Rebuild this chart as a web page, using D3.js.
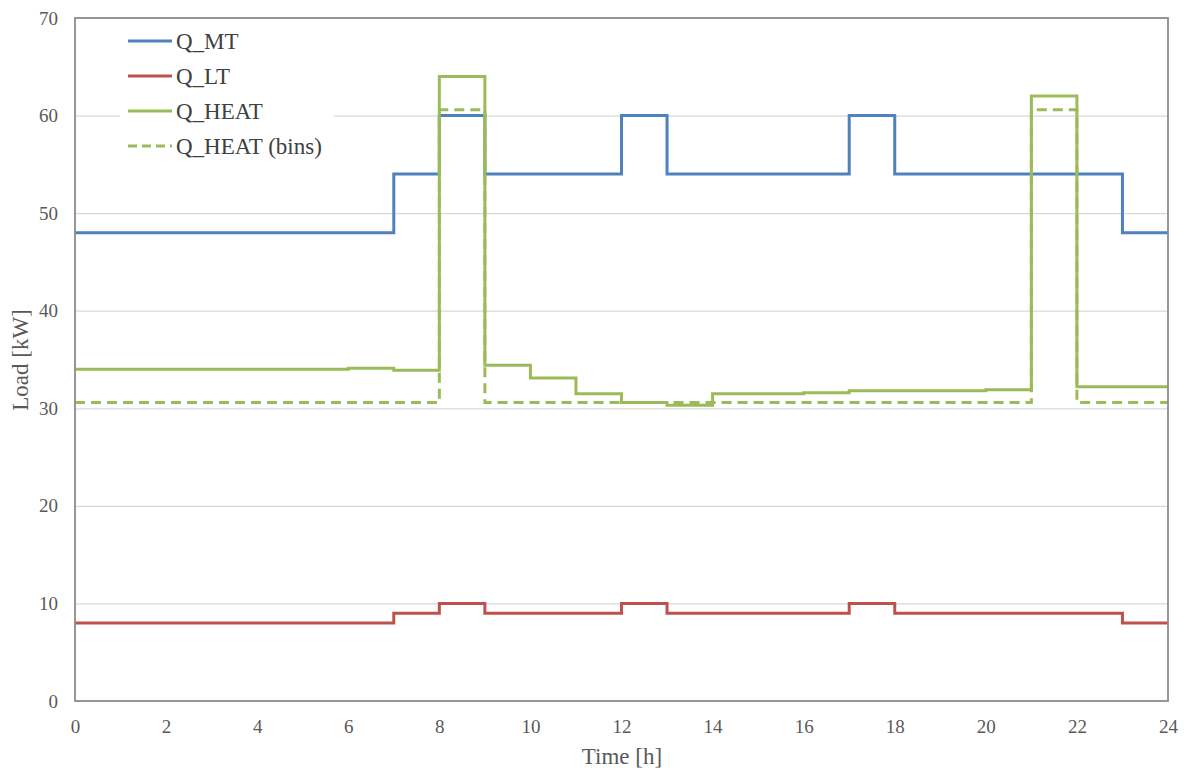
<!DOCTYPE html>
<html>
<head>
<meta charset="utf-8">
<script src="https://cdn.jsdelivr.net/npm/d3@7"></script>
<style>
  html, body { margin: 0; padding: 0; background: #fff; }
  svg { display: block; }
  svg text { font-family: "Liberation Serif", "Times New Roman", serif; }
</style>
</head>
<body>
<svg id="chart" width="1190" height="771"></svg>
<script>
// Hourly loads over one day (value holds from hour h to h+1)
const hours = d3.range(0, 24);
const qMT = [48, 48, 48, 48, 48, 48, 48, 54, 60, 54, 54, 54, 60, 54, 54, 54, 54, 60, 54, 54, 54, 54, 54, 48];
const qLT = [8, 8, 8, 8, 8, 8, 8, 9, 10, 9, 9, 9, 10, 9, 9, 9, 9, 10, 9, 9, 9, 9, 9, 8];
const qHeat = [34.0, 34.0, 34.0, 34.0, 34.0, 34.0, 34.1, 33.9, 64.0, 34.4, 33.1, 31.5, 30.6, 30.3, 31.5, 31.5, 31.6, 31.8, 31.8, 31.8, 31.9, 62.0, 32.2, 32.2];
const qHeatBins = [30.6, 30.6, 30.6, 30.6, 30.6, 30.6, 30.6, 30.6, 60.6, 30.6, 30.6, 30.6, 30.6, 30.6, 30.6, 30.6, 30.6, 30.6, 30.6, 30.6, 30.6, 60.6, 30.6, 30.6];
const xTicks = [0, 2, 4, 6, 8, 10, 12, 14, 16, 18, 20, 22, 24];
const yTicks = [0, 10, 20, 30, 40, 50, 60, 70];

const series = [
  { name: "Q_MT", values: qMT, color: "#4F81BD", dash: null },
  { name: "Q_LT", values: qLT, color: "#C0504D", dash: null },
  { name: "Q_HEAT", values: qHeat, color: "#9BBB59", dash: null },
  { name: "Q_HEAT (bins)", values: qHeatBins, color: "#9BBB59", dash: "10,6" }
];

const svg = d3.select("#chart");
const margin = { left: 75, right: 1168, top: 18, bottom: 701 };

const x = d3.scaleLinear().domain([0, 24]).range([margin.left, margin.right]);
const y = d3.scaleLinear().domain([0, 70]).range([margin.bottom, margin.top]);

const font = "'Liberation Serif', 'Times New Roman', serif";

// Horizontal gridlines
svg.append("g")
  .attr("transform", `translate(${margin.left},0)`)
  .call(d3.axisLeft(y).tickValues(yTicks).tickSize(-(margin.right - margin.left)).tickFormat(""))
  .call(g => g.select(".domain").remove())
  .call(g => g.selectAll("line").attr("stroke", "#d9d9d9").attr("stroke-width", 1.2));

// Y tick labels
svg.append("g")
  .attr("transform", `translate(${margin.left},0)`)
  .call(d3.axisLeft(y).tickValues(yTicks).tickSize(0).tickPadding(17))
  .call(g => g.select(".domain").remove())
  .call(g => g.selectAll("text").style("font-family", font).style("font-size", "19px").attr("fill", "#595959"));

// X tick labels
svg.append("g")
  .attr("transform", `translate(0,${margin.bottom})`)
  .call(d3.axisBottom(x).tickValues(xTicks).tickSize(0).tickPadding(19))
  .call(g => g.select(".domain").remove())
  .call(g => g.selectAll("text").style("font-family", font).style("font-size", "19px").attr("fill", "#595959"));

// Legend background covers gridlines behind the entries
svg.append("rect")
  .attr("x", 120).attr("y", 24).attr("width", 214).attr("height", 146)
  .attr("fill", "#fff");

// Step lines
const line = d3.line()
  .x(d => x(d[0]))
  .y(d => y(d[1]))
  .curve(d3.curveStepAfter);

series.forEach(s => {
  const pts = hours.map((h, i) => [h, s.values[i]]);
  pts.push([24, s.values[s.values.length - 1]]);
  svg.append("path")
    .datum(pts)
    .attr("d", line)
    .attr("fill", "none")
    .attr("stroke", s.color)
    .attr("stroke-width", 3)
    .attr("stroke-dasharray", s.dash);
});

// Plot frame
svg.append("rect")
  .attr("x", margin.left).attr("y", margin.top)
  .attr("width", margin.right - margin.left)
  .attr("height", margin.bottom - margin.top)
  .attr("fill", "none")
  .attr("stroke", "#8c8c8c")
  .attr("stroke-width", 1.8);

// Legend
const legend = svg.append("g");
series.forEach((s, i) => {
  const ly = 41 + i * 35;
  legend.append("line")
    .attr("x1", 128).attr("x2", 172)
    .attr("y1", ly).attr("y2", ly)
    .attr("stroke", s.color)
    .attr("stroke-width", 3)
    .attr("stroke-dasharray", s.dash ? "9,5" : null);
  legend.append("text")
    .attr("x", 176).attr("y", ly + 7.5)
    .style("font-family", font).style("font-size", "23px")
    .attr("fill", "#404040")
    .text(s.name);
});

// Axis titles
svg.append("text")
  .attr("x", 622).attr("y", 764)
  .attr("text-anchor", "middle")
  .style("font-family", font).style("font-size", "23px")
  .attr("fill", "#595959")
  .text("Time [h]");

svg.append("text")
  .attr("transform", "translate(28,360) rotate(-90)")
  .attr("text-anchor", "middle")
  .style("font-family", font).style("font-size", "23px")
  .attr("fill", "#595959")
  .text("Load [kW]");
</script>
</body>
</html>
